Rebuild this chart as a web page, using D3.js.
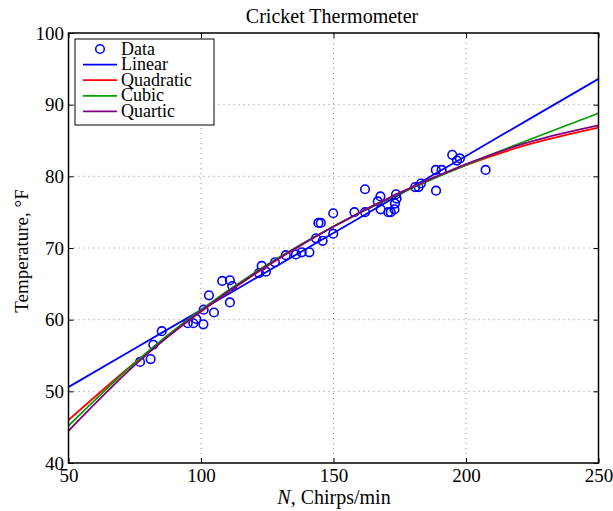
<!DOCTYPE html>
<html>
<head>
<meta charset="utf-8">
<script src="https://cdn.jsdelivr.net/npm/d3@7"></script>
<style>
  body { margin: 0; background: #fff; }
  text { font-family: "Liberation Serif", "DejaVu Serif", serif; }
</style>
</head>
<body>
<script>
'use-strict';

// observed data
let chirps = [77.0, 81.0, 82.0, 85.2, 95.0, 97.1, 98.2, 100.9, 101.0, 103.0, 104.9, 108.0,
  110.9, 111.8, 110.9, 121.9, 122.9, 124.5, 127.9, 132.0, 135.8, 138.0, 140.9, 143.4,
  144.3, 145.2, 145.9, 149.9, 149.9, 157.9, 161.9, 161.9, 166.7, 167.7, 167.8, 170.7,
  171.6, 173.0, 173.2, 173.8, 173.6, 180.8, 182.1, 183.0, 188.6, 190.8, 188.7, 194.8,
  196.6, 197.7, 207.4];
let temps = [54.1, 54.5, 56.5, 58.4, 59.5, 59.5, 60.1, 59.35, 61.4, 63.4, 61.0, 65.4,
  65.5, 64.7, 62.4, 66.5, 67.5, 66.7, 68.0, 69.0, 69.1, 69.4, 69.4, 71.35,
  73.5, 73.5, 71.0, 72.0, 74.85, 75.0, 75.0, 78.2, 76.5, 77.2, 75.4, 75.0,
  75.0, 75.4, 76.2, 76.9, 77.5, 78.5, 78.5, 79.0, 80.9, 80.9, 78.0, 83.0,
  82.2, 82.5, 80.9];

// fitted curves
let fitN = [50, 75, 100, 125, 150, 175, 200, 225, 250];
let linearT = [50.6, 55.98, 61.35, 66.73, 72.1, 77.48, 82.85, 88.23, 93.6];
let quadraticT = [46.0, 53.99, 61.15, 67.49, 73.0, 77.69, 81.55, 84.59, 86.8];
let cubicT = [45.2, 53.98, 61.4, 67.68, 73.0, 77.58, 81.6, 85.28, 88.8];
let quarticT = [44.5, 53.65, 61.2, 67.55, 73.0, 77.7, 81.7, 84.9, 87.1];

let seriesNames = ["Linear", "Quadratic", "Cubic", "Quartic"];
let seriesColors = ["#0000ff", "#ff0000", "#00a000", "#800080"];
let seriesValues = [linearT, quadraticT, cubicT, quarticT];

let xTicks = [50, 100, 150, 200, 250];
let yTicks = [40, 50, 60, 70, 80, 90, 100];

let width = 613,
  height = 511;
let mLeft = 68.5, mRight = 598.5, mTop = 33, mBottom = 463;

let svg = d3.select("body")
  .append("svg")
  .attr("width", width)
  .attr("height", height);

let x = d3.scaleLinear().domain([50, 250]).range([mLeft, mRight]);
let y = d3.scaleLinear().domain([40, 100]).range([mBottom, mTop]);

// dotted grid
svg.append("g")
  .selectAll("line")
  .data(xTicks.slice(1, -1))
  .join("line")
  .attr("x1", d => x(d)).attr("x2", d => x(d))
  .attr("y1", mTop).attr("y2", mBottom)
  .attr("stroke", "#888").attr("stroke-width", 1)
  .attr("stroke-dasharray", "1,4");
svg.append("g")
  .selectAll("line")
  .data(yTicks.slice(1, -1))
  .join("line")
  .attr("y1", d => y(d)).attr("y2", d => y(d))
  .attr("x1", mLeft).attr("x2", mRight)
  .attr("stroke", "#888").attr("stroke-width", 1)
  .attr("stroke-dasharray", "1,4");

// clip
svg.append("clipPath").attr("id", "clip")
  .append("rect")
  .attr("x", mLeft).attr("y", mTop)
  .attr("width", mRight - mLeft).attr("height", mBottom - mTop);

let plot = svg.append("g").attr("clip-path", "url(#clip)");

// data circles
plot.selectAll("circle")
  .data(chirps.map((c, i) => [c, temps[i]]))
  .join("circle")
  .attr("cx", d => x(d[0]))
  .attr("cy", d => y(d[1]))
  .attr("r", 4.3)
  .attr("fill", "none")
  .attr("stroke", "#0000ff")
  .attr("stroke-width", 1.6);

// fit lines
let line = d3.line()
  .x(d => x(d[0]))
  .y(d => y(d[1]))
  .curve(d3.curveNatural);

seriesValues.forEach((vals, i) => {
  plot.append("path")
    .attr("d", line(fitN.map((n, j) => [n, vals[j]])))
    .attr("fill", "none")
    .attr("stroke", seriesColors[i])
    .attr("stroke-width", 1.8);
});

// axes (ticks inside, box on)
let axisFont = 19;
let gx = svg.append("g")
  .attr("transform", `translate(0,${mBottom})`)
  .call(d3.axisBottom(x).tickValues(xTicks).tickSize(-5).tickPadding(6));
let gxTop = svg.append("g")
  .attr("transform", `translate(0,${mTop})`)
  .call(d3.axisTop(x).tickValues(xTicks).tickSize(-5).tickFormat(""));
let gy = svg.append("g")
  .attr("transform", `translate(${mLeft},0)`)
  .call(d3.axisLeft(y).tickValues(yTicks).tickSize(-5).tickPadding(4.5));
let gyRight = svg.append("g")
  .attr("transform", `translate(${mRight},0)`)
  .call(d3.axisRight(y).tickValues(yTicks).tickSize(-5).tickFormat(""));

[gx, gxTop, gy, gyRight].forEach(g => {
  g.select(".domain").remove();
  g.selectAll("line").attr("stroke", "#000").attr("stroke-width", 1);
  g.selectAll("text")
    .attr("fill", "#000")
    .style("font-size", axisFont + "px")
    .style("font-family", '"Liberation Serif", "DejaVu Serif", serif');
});
gx.selectAll("text").attr("dy", "0.71em");

svg.append("rect")
  .attr("x", mLeft).attr("y", mTop)
  .attr("width", mRight - mLeft).attr("height", mBottom - mTop)
  .attr("fill", "none")
  .attr("stroke", "#000")
  .attr("stroke-width", 1.5);

// title and labels
svg.append("text")
  .attr("x", 332)
  .attr("y", 22.5)
  .attr("text-anchor", "middle")
  .style("font-size", "20px")
  .text("Cricket Thermometer");

let xl = svg.append("text")
  .attr("x", 334)
  .attr("y", 504)
  .attr("text-anchor", "middle")
  .style("font-size", "20px");
xl.append("tspan").style("font-style", "italic").text("N");
xl.append("tspan").text(", Chirps/min");

svg.append("text")
  .attr("transform", `translate(28,251) rotate(-90)`)
  .attr("text-anchor", "middle")
  .style("font-size", "19px")
  .text("Temperature, °F");

// legend
let legend = svg.append("g").attr("transform", "translate(75,39)");
legend.append("rect")
  .attr("width", 139).attr("height", 86)
  .attr("fill", "#fff")
  .attr("stroke", "#000")
  .attr("stroke-width", 1);

let rowY = i => 10 + i * 15.6;
legend.append("circle")
  .attr("cx", 25).attr("cy", rowY(0))
  .attr("r", 4.3)
  .attr("fill", "none")
  .attr("stroke", "#0000ff")
  .attr("stroke-width", 1.6);
legend.append("text")
  .attr("x", 46).attr("y", rowY(0) + 5.5)
  .style("font-size", "18px")
  .text("Data");

seriesNames.forEach((name, i) => {
  legend.append("line")
    .attr("x1", 8).attr("x2", 42)
    .attr("y1", rowY(i + 1)).attr("y2", rowY(i + 1))
    .attr("stroke", seriesColors[i])
    .attr("stroke-width", 1.8);
  legend.append("text")
    .attr("x", 46).attr("y", rowY(i + 1) + 5.5)
    .style("font-size", "18px")
    .text(name);
});
</script>
</body>
</html>
